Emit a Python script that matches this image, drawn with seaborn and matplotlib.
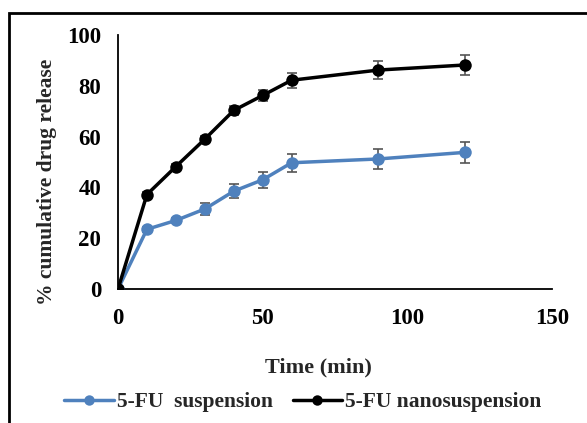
import matplotlib
matplotlib.use("Agg")
import matplotlib.pyplot as plt
import seaborn as sns
import pandas as pd
from matplotlib.patches import Rectangle
from matplotlib.lines import Line2D

time = [0, 10, 20, 30, 40, 50, 60, 90, 120]
susp = [0, 23.5, 27.0, 31.5, 38.5, 43.0, 49.7, 51.2, 53.8]
susp_err = [0, 1.0, 1.0, 2.5, 2.8, 3.1, 3.5, 3.8, 4.1]
nano = [0, 37.2, 48.2, 59.0, 70.3, 76.2, 82.2, 86.2, 88.2]
nano_err = [0, 1.0, 1.0, 1.3, 1.6, 2.3, 3.0, 3.6, 3.9]
labels = ["5-FU  suspension", "5-FU nanosuspension"]
colors = ["#4f81bd", "#000000"]

df = pd.DataFrame({
    "Time": time * 2,
    "Release": susp + nano,
    "Series": [labels[0]] * len(time) + [labels[1]] * len(time),
})

sns.set_style("white")
plt.rcParams["font.family"] = ["Liberation Serif", "DejaVu Serif"]
plt.rcParams["font.weight"] = "bold"

W, H = 587, 423
fig = plt.figure(figsize=(W / 100, H / 100), dpi=100)
L, R, T, B = 118, 552, 35, 289
ax = fig.add_axes([L / W, 1 - B / H, (R - L) / W, (B - T) / H])

for lab, err in zip(labels, [susp_err, nano_err]):
    sub = df[df["Series"] == lab]
    ax.errorbar(sub["Time"], sub["Release"], yerr=err, fmt="none",
                ecolor="#555555", elinewidth=1.2, capsize=3.5, capthick=1.2, zorder=2)

sns.lineplot(data=df, x="Time", y="Release", hue="Series", palette=colors,
             marker="o", markersize=9, markeredgewidth=0, linewidth=2.5,
             ax=ax, legend=False, zorder=3)

ax.set_xlim(0, 150)
ax.set_ylim(0, 100)
ax.set_xticks([0, 50, 100, 150])
ax.set_yticks([0, 20, 40, 60, 80, 100])
for s in ["top", "right"]:
    ax.spines[s].set_visible(False)
for s in ["left", "bottom"]:
    ax.spines[s].set_color("black")
    ax.spines[s].set_linewidth(1.3)
ax.tick_params(axis="both", direction="out", length=6, width=1.3, colors="black",
               labelsize=16.5)
ax.tick_params(axis="x", pad=8)
ax.tick_params(axis="y", pad=6)
for t in ax.get_xticklabels() + ax.get_yticklabels():
    t.set_fontweight("bold")
ax.set_xlabel("Time (min)", fontsize=16, fontweight="bold")
ax.set_ylabel("% cumulative drug release", fontsize=15.5, fontweight="bold")
ax.xaxis.set_label_coords((318 - L) / (R - L), -(367 - B) / (B - T))
ax.xaxis.label.set_va("center")
ax.yaxis.set_label_coords(-(L - 47) / (R - L), (B - 182) / (B - T))
ax.yaxis.label.set_va("center")

handles = [Line2D([], [], color=c, marker="o", markersize=7.5, markeredgewidth=0, linewidth=2.5)
           for c in colors]
fig.legend(handles, labels, loc="center", bbox_to_anchor=(303 / W, 1 - 402 / H),
           ncol=2, frameon=False, prop={"size": 15.5, "weight": "bold"},
           handlelength=2.3, handletextpad=0.15, columnspacing=0.9)

fig.patches.append(Rectangle((9 / W, -0.05), 1.1, 1 - 13 / H + 0.05,
                             transform=fig.transFigure, fill=False,
                             edgecolor="black", linewidth=2, zorder=0))

fig.savefig("out.png", dpi=100)
